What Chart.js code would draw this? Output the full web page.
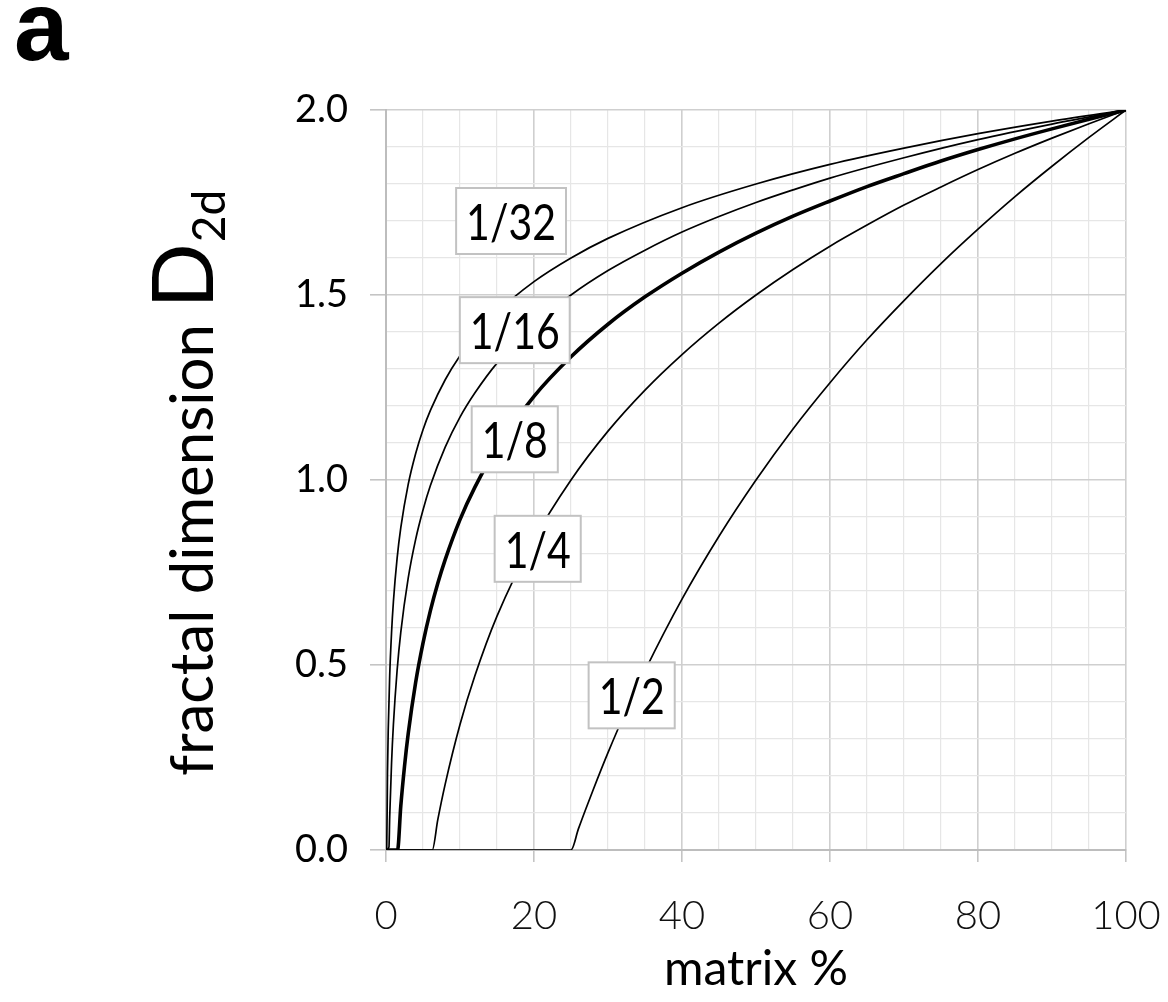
<!DOCTYPE html>
<html>
<head>
<meta charset="utf-8">
<script src="https://cdn.jsdelivr.net/npm/chart.js@4.4.1/dist/chart.umd.min.js"></script>
<style>
  html, body { margin: 0; padding: 0; background: #fff; }
  #wrap { position: relative; width: 1168px; height: 1002px; }
</style>
</head>
<body>
<div id="wrap"><canvas id="fractalChart"></canvas></div>
<script>
// matrix % (x) and fractal dimension D2d (y), one pair per scale factor
const xs32 = [0, 0.1, 0.2, 0.3, 0.5, 0.75, 1, 1.5, 2, 3, 4, 5, 6, 8, 10, 12, 15, 20, 25, 30, 40, 50, 60, 70, 80, 90, 100];
const d32 = [0, 0.007, 0.207, 0.324, 0.471, 0.588, 0.671, 0.788, 0.871, 0.988, 1.071, 1.136, 1.188, 1.271, 1.336, 1.388, 1.453, 1.536, 1.600, 1.653, 1.736, 1.800, 1.853, 1.897, 1.936, 1.970, 2.0];

const xs16 = [0, 0.4, 0.5, 0.75, 1, 1.5, 2, 3, 4, 5, 6, 8, 10, 12, 15, 20, 25, 30, 35, 40, 45, 50, 55, 60, 70, 80, 90, 100];
const d16 = [0, 0.008, 0.089, 0.235, 0.339, 0.485, 0.589, 0.735, 0.839, 0.919, 0.985, 1.089, 1.170, 1.235, 1.316, 1.420, 1.500, 1.566, 1.621, 1.670, 1.712, 1.750, 1.784, 1.816, 1.871, 1.920, 1.962, 2.0];

const xs8 = [0, 1.56, 2, 2.5, 3, 4, 5, 6, 7, 8, 10, 12, 15, 20, 25, 30, 35, 40, 45, 50, 55, 60, 65, 70, 75, 80, 85, 90, 95, 100];
const d8 = [0, 0, 0.119, 0.226, 0.314, 0.452, 0.559, 0.647, 0.721, 0.785, 0.893, 0.980, 1.088, 1.226, 1.333, 1.421, 1.495, 1.559, 1.616, 1.667, 1.713, 1.754, 1.793, 1.828, 1.862, 1.893, 1.922, 1.949, 1.975, 2.0];

const xs4 = [0, 6.25, 7, 8, 10, 12, 15, 20, 25, 30, 35, 40, 45, 50, 55, 60, 65, 70, 75, 80, 85, 90, 95, 100];
const d4 = [0, 0, 0.082, 0.178, 0.339, 0.470, 0.632, 0.839, 1.000, 1.132, 1.243, 1.339, 1.424, 1.500, 1.569, 1.632, 1.689, 1.743, 1.792, 1.839, 1.883, 1.924, 1.963, 2.0];

const xs2 = [0, 25, 26, 27, 28, 30, 32.5, 35, 40, 45, 50, 55, 60, 65, 70, 75, 80, 85, 90, 95, 100];
const d2 = [0, 0, 0.057, 0.111, 0.163, 0.263, 0.379, 0.485, 0.678, 0.848, 1.000, 1.138, 1.263, 1.379, 1.485, 1.585, 1.678, 1.766, 1.848, 1.926, 2.0];

// curve labels and where they sit (data units)
const curveNames = ['1/32', '1/16', '1/8', '1/4', '1/2'];
const labelAtX = [16.9, 17.4, 17.4, 20.5, 33.2];
const labelAtY = [1.70, 1.405, 1.11, 0.814, 0.418];

const xTickLabels = [0, 20, 40, 60, 80, 100];
const yTickLabels = [0, 0.5, 1.0, 1.5, 2.0];

const FONT = 'Lato, "Open Sans", sans-serif';

function toPoints(xs, ys) {
    return xs.map((x, i) => ({ x: x, y: ys[i] }));
}

function isMajorX(v) {
    return xTickLabels.some(t => Math.abs(t - v) < 1e-6);
}

function isMajorY(v) {
    return yTickLabels.some(t => Math.abs(t - v) < 1e-6);
}

const curveLabels = {
    id: 'curveLabels',
    afterDatasetsDraw(chart) {
        const { ctx, scales: { x, y } } = chart;
        const squeeze = 0.82;
        ctx.save();
        ctx.font = '50px ' + FONT;
        ctx.textAlign = 'center';
        ctx.textBaseline = 'middle';
        curveNames.forEach((name, i) => {
            const cx = x.getPixelForValue(labelAtX[i]);
            const cy = y.getPixelForValue(labelAtY[i]);
            const w = ctx.measureText(name).width * squeeze + 20;
            const h = 66;
            ctx.fillStyle = '#fff';
            ctx.fillRect(cx - w / 2, cy - h / 2, w, h);
            ctx.strokeStyle = '#c2c2c2';
            ctx.lineWidth = 2;
            ctx.strokeRect(cx - w / 2, cy - h / 2, w, h);
            ctx.save();
            ctx.translate(cx, cy + 3);
            ctx.scale(squeeze, 1);
            ctx.fillStyle = '#000';
            ctx.fillText(name, 0, 0);
            ctx.restore();
        });
        ctx.restore();
    }
};

const extraText = {
    id: 'extraText',
    afterDraw(chart) {
        const ctx = chart.ctx;
        ctx.save();
        // panel letter
        ctx.fillStyle = '#000';
        ctx.font = 'bold 98px "Liberation Sans", Arial, sans-serif';
        ctx.textAlign = 'left';
        ctx.textBaseline = 'alphabetic';
        ctx.fillText('a', 14, 60);

        // y axis title with subscript
        ctx.translate(213, 776);
        ctx.rotate(-Math.PI / 2);
        ctx.font = '60px ' + FONT;
        ctx.fillText('fractal dimension ', 0, 0);
        let px = ctx.measureText('fractal dimension ').width;
        ctx.font = '86px ' + FONT;
        ctx.fillText('D', px, 0);
        px += ctx.measureText('D').width;
        ctx.font = '46px ' + FONT;
        ctx.fillText('2d', px + 1, 12);
        ctx.restore();
    }
};

let chart;

function setupChart() {
    const ctx = document.getElementById('fractalChart').getContext('2d');
    const series = [
        [xs32, d32, 1.7],
        [xs16, d16, 1.7],
        [xs8, d8, 3.6],
        [xs4, d4, 1.7],
        [xs2, d2, 1.7]
    ];
    chart = new Chart(ctx, {
        type: 'line',
        data: {
            datasets: series.map((s, i) => ({
                label: curveNames[i],
                data: toPoints(s[0], s[1]),
                borderColor: '#000',
                borderWidth: s[2],
                backgroundColor: 'transparent',
                pointRadius: 0,
                fill: false,
                cubicInterpolationMode: 'monotone'
            }))
        },
        options: {
            responsive: true,
            maintainAspectRatio: false,
            animation: false,
            layout: { padding: { top: 110, right: 42, left: 0, bottom: 0 } },
            plugins: {
                legend: { display: false },
                tooltip: { enabled: false }
            },
            scales: {
                x: {
                    type: 'linear',
                    min: 0,
                    max: 100,
                    afterFit: scale => {
                        scale.height = 152;
                        scale.paddingLeft = 0;
                        scale.paddingRight = 0;
                    },
                    border: { color: '#bdbdbd', width: 2 },
                    grid: {
                        color: c => isMajorX(c.tick.value) ? '#cfcfcf' : '#e6e6e6',
                        lineWidth: c => isMajorX(c.tick.value) ? 1.6 : 1.2,
                        tickColor: c => isMajorX(c.tick.value) ? '#c4c4c4' : 'rgba(0,0,0,0)',
                        tickLength: 12
                    },
                    ticks: {
                        stepSize: 5,
                        autoSkip: false,
                        maxRotation: 0,
                        padding: 30,
                        color: '#111',
                        font: { family: FONT, size: 40, weight: '300' },
                        callback: v => isMajorX(v) ? String(v) : ''
                    },
                    title: {
                        display: true,
                        text: 'matrix %',
                        color: '#000',
                        font: { family: FONT, size: 48, lineHeight: 1.2 },
                        padding: { top: 0, bottom: 4 }
                    }
                },
                y: {
                    type: 'linear',
                    min: 0,
                    max: 2,
                    afterFit: scale => {
                        scale.width = 386;
                        scale.paddingTop = 0;
                        scale.paddingBottom = 0;
                    },
                    border: { color: '#bdbdbd', width: 2 },
                    grid: {
                        color: c => isMajorY(c.tick.value) ? '#cfcfcf' : '#e6e6e6',
                        lineWidth: c => isMajorY(c.tick.value) ? 1.6 : 1.2,
                        tickColor: c => isMajorY(c.tick.value) ? '#c4c4c4' : 'rgba(0,0,0,0)',
                        tickLength: 16
                    },
                    ticks: {
                        stepSize: 0.1,
                        autoSkip: false,
                        padding: 22,
                        color: '#000',
                        font: { family: FONT, size: 38 },
                        callback: v => isMajorY(v) ? v.toFixed(1) : ''
                    }
                }
            }
        },
        plugins: [curveLabels, extraText]
    });
}

document.addEventListener('DOMContentLoaded', () => {
    setupChart();
});
</script>
</body>
</html>
